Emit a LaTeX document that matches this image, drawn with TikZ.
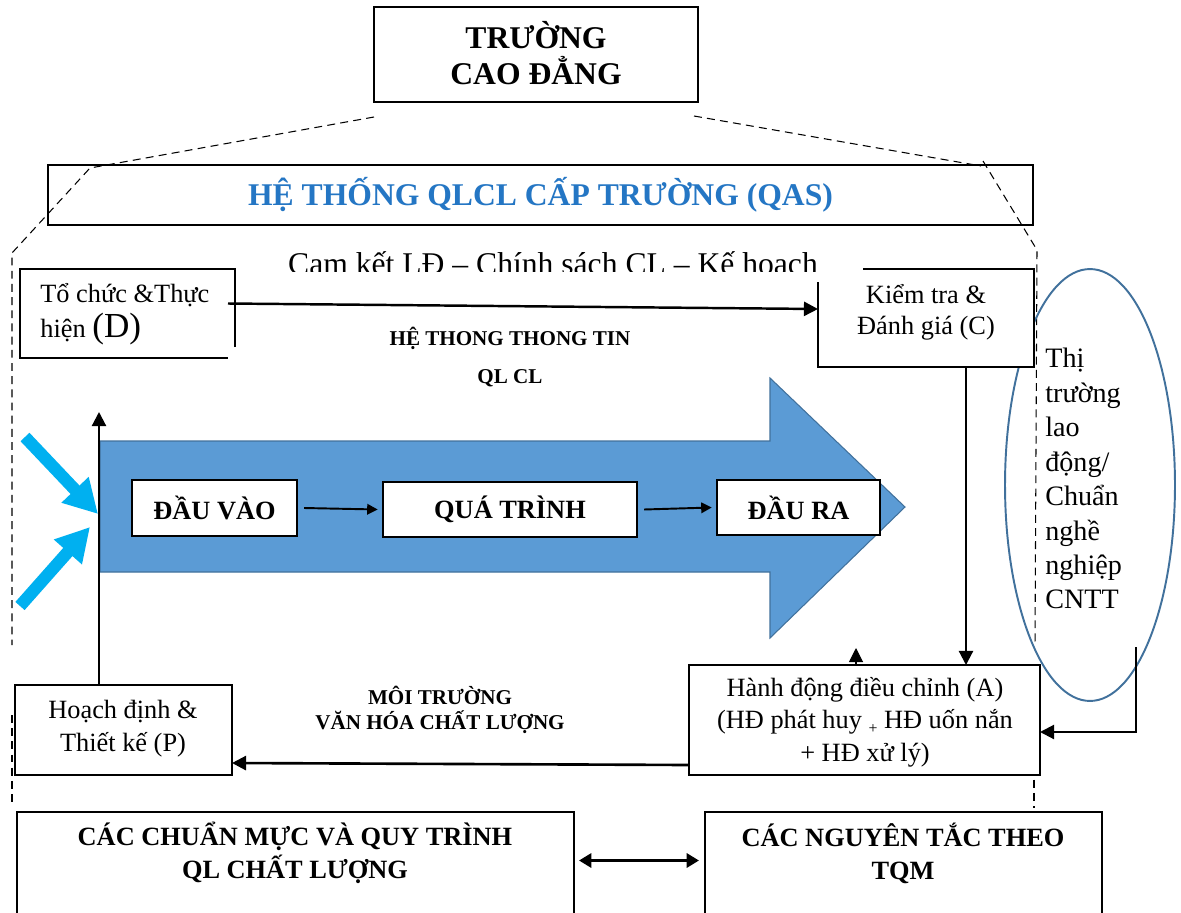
\documentclass[tikz,border=0pt]{standalone}
\usepackage{fontspec}
\setmainfont{Liberation Serif}
\usetikzlibrary{arrows.meta,calc,fit,shapes.geometric}

\definecolor{qasblue}{RGB}{36,118,196}
\definecolor{arrowfill}{RGB}{91,155,213}
\definecolor{arrowedge}{RGB}{65,113,156}
\definecolor{inflow}{RGB}{0,176,240}
\definecolor{ellblue}{RGB}{65,113,156}

\newcommand{\fsz}[2]{\fontsize{#1}{#2}\selectfont}

\begin{document}
\begin{tikzpicture}[x=0.02cm,y=-0.02cm,
  edge/.style={line width=0.8pt},
  boxarea/.style={inner sep=0pt, outer sep=0pt},
  framebox/.style={boxarea, draw, line width=0.8pt, fill=white},
  guide/.style={line width=0.6pt, dash pattern=on 4.5pt off 3pt},
  flow/.style={line width=1.2pt, -{Triangle[length=8pt,width=8pt]}},
  smallflow/.style={line width=1.1pt, -{Triangle[length=6pt,width=6pt]}},
  twoway/.style={line width=1.6pt, {Triangle[length=7pt,width=8pt]}-{Triangle[length=7pt,width=8pt]}},
  inflowarrow/.style={draw=inflow, line width=7pt, -{Triangle[length=19pt,width=20pt]}},
  txt/.style={inner sep=0pt, align=center},
]
\useasboundingbox (0,0) rectangle (1181,913);
\fill[white] (0,0) rectangle (1181,913);

% college box
\node[framebox, fit={(374,7) (698,102)}] (school) {};
\node[txt, font=\bfseries\fsz{18}{20.4}] (schooltitle) at ($(school.center)+(0,-1)$) {TRƯỜNG\\CAO ĐẲNG};

% dashed outline of the quality system
\draw[guide] (374,117) -- (90,168) -- (12,253) -- (12,645);
\draw[guide] (12,715) -- (12,805);
\draw[guide] (694,116) -- (981,166);
\draw[guide] (983,161) -- (1037,250) -- (1035,645);
\draw[guide] (1034,727) -- (1034,808);

% QAS banner
\node[boxarea, draw, line width=0.8pt, fit={(48,165) (1033,225)}] (qas) {};
\node[txt, font=\bfseries\fsz{18}{21}, text=qasblue] (qastitle) at (qas.center) {HỆ THỐNG QLCL CẤP TRƯỜNG (QAS)};

% commitment line (its lower edge is hidden by the boxes below)
\begin{scope}
  \clip (240,230) rectangle (870,271.5);
  \node[txt, anchor=base, font=\fsz{18}{20}] (pledge) at (553,274) {Cam kết LĐ – Chính sách CL – Kế hoạch};
\end{scope}

% labour market ellipse
\node[draw=ellblue, line width=1.1pt, ellipse, minimum width=3.4cm, minimum height=8.64cm, inner sep=0pt] (market) at (1090,485) {};
\node[txt, align=left, anchor=north west, font=\fsz{16}{19.6}] (markettxt) at (1045,348) {Thị\\trường\\lao\\động/\\Chuẩn\\nghề\\nghiệp\\CNTT};

% D box
\node[boxarea, fit={(20,269) (235,358)}] (D) {};
\draw[edge] (235,347) -- (235,269) -- (20,269) -- (20,358) -- (228,358);
\node[txt, align=left, anchor=west, font=\fsz{15}{20}] (Dtxt) at (40,314) {Tổ chức \&Thực\\hiện {\fsz{20}{20}(D)}};

% C box
\node[boxarea, fill=white, fit={(818,269) (1034,367)}] (C) {};
\draw[edge] (863,269) -- (1034,269) -- (1034,367) -- (818,367) -- (818,282);
\node[txt, font=\fsz{15}{17.6}] (Ctxt) at (926,312) {Kiểm tra \&\\Đánh giá (C)};

% information system label
\node[txt, font=\bfseries\fsz{12}{22}] (info) at (510,357) {HỆ THONG THONG TIN\\QL CL};

% main process arrow
\fill[arrowfill, draw=arrowedge, line width=0.6pt] (100,441) -- (770,441) -- (770,378) -- (905,507) -- (770,638) -- (770,572) -- (100,572) -- cycle;
\node[framebox, fit={(132,480) (297,536)}] (vao) {};
\node[txt, font=\bfseries\fsz{15}{18}] at (vao.center) {ĐẦU VÀO};
\node[framebox, fit={(383,482) (637,537)}] (qt) {};
\node[txt, font=\bfseries\fsz{15}{18}] at (qt.center) {QUÁ TRÌNH};
\node[framebox, fit={(717,480) (880,535)}] (ra) {};
\node[txt, font=\bfseries\fsz{15}{18}] at (ra.center) {ĐẦU RA};
\draw[smallflow] ([xshift=4pt]vao.east) -- ([xshift=-3pt]qt.west);
\draw[smallflow] ([xshift=4pt]qt.east) -- ([xshift=-3pt]ra.west);

% incoming influences
\coordinate (inA) at (25,437);
\coordinate (inB) at (20,606);
\coordinate (hitA) at (98,514);
\coordinate (hitB) at (90,527);
\draw[inflowarrow] (inA) -- (hitA);
\draw[inflowarrow] (inB) -- (hitB);

% A box
\node[framebox, fit={(689,665) (1040,775)}] (A) {};
\node[txt, font=\fsz{15}{18.4}] (Atxt) at (865,722) {Hành động điều chỉnh (A)\\(HĐ phát huy \raisebox{-0.4ex}{\fsz{9}{9}+} HĐ uốn nắn\\+ HĐ xử lý)};

% P box
\node[framebox, fit={(15,685) (232,775)}] (P) {};
\node[txt, font=\fsz{15}{18.7}] (Ptxt) at (123,729) {Hoạch định \&\\Thiết kế (P)};

% quality culture label
\node[txt, font=\bfseries\fsz{12}{14.5}] (culture) at (440,710) {MÔI TRƯỜNG\\VĂN HÓA CHẤT LƯỢNG};

% PDCA connectors
\coordinate (rise) at (99,412);
\draw[flow] (P.north -| rise) -- (rise);
\draw[flow, line width=1.4pt] ($(D.east)+(-7,-10)$) -- ($(C.west)+(0,-9)$);
\coordinate (down) at (966,0);
\draw[flow] (C.south -| down) -- (A.north -| down);
\coordinate (stubtip) at (856,648);
\draw[flow, line width=0.6pt] (A.north -| stubtip) -- (stubtip);
\coordinate (mkt) at (1136,647);
\draw[flow] (mkt) |- ($(A.east)+(0,12)$);
\draw[flow, line width=1.5pt] ($(A.west)+(0,45)$) -- ($(P.east)+(0,33)$);

% bottom boxes
\node[boxarea, fit={(17,812) (574,913)}] (norms) {};
\draw[edge] (norms.south west) -- (norms.north west) -- (norms.north east) -- (norms.south east);
\node[txt, font=\bfseries\fsz{15}{18.7}] (normstxt) at (295,853) {CÁC CHUẨN MỰC VÀ QUY TRÌNH\\QL CHẤT LƯỢNG};
\node[boxarea, fit={(705,812) (1102,913)}] (tqm) {};
\draw[edge] (tqm.south west) -- (tqm.north west) -- (tqm.north east) -- (tqm.south east);
\node[txt, font=\bfseries\fsz{15}{18.7}] (tqmtxt) at (903,853) {CÁC NGUYÊN TẮC THEO\\TQM};
\draw[twoway] ($(norms.east)+(5,-2)$) -- ($(tqm.west)+(-6,-2)$);
\end{tikzpicture}
\end{document}
